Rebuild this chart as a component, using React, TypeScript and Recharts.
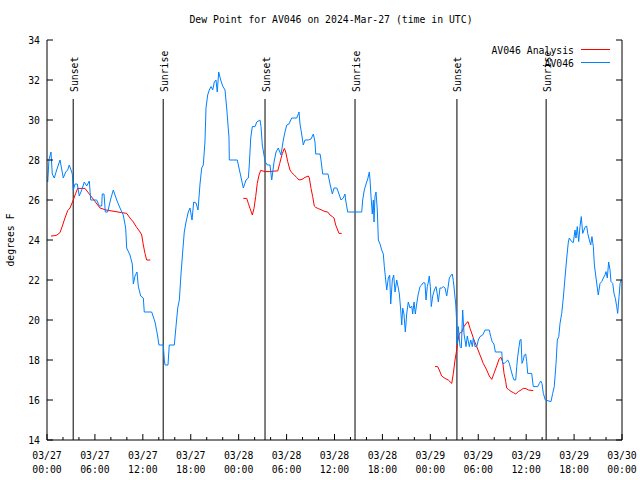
import { ComposedChart, Line, XAxis, YAxis, ReferenceLine, Scatter } from "recharts";

const FONT = "'DejaVu Sans Mono', 'Liberation Mono', monospace";
const FS = 9.8;

// hours since 2024-03-27 00:00 UTC
const obsHours = [
  0.09, 0.25, 0.5, 0.66, 0.91, 1.21, 1.63, 2.04, 2.34, 2.59, 2.79, 3.01, 3.17, 3.29, 3.51, 3.79, 4.04, 4.35, 4.67, 4.97,
  5.3, 5.47, 6.22, 6.55, 6.85, 6.92, 7.14, 7.3, 7.6, 8.01, 8.3, 8.73, 9.14, 9.55, 9.85, 9.98, 10.39, 10.68, 10.81, 11.02,
  11.27, 11.43, 11.73, 12.06, 12.18, 13.11, 13.52, 13.81, 14.02, 14.56, 14.69, 14.78, 15.15, 15.31, 15.94, 16.15, 16.37,
  16.57, 16.78, 16.99, 17.19, 17.41, 17.69, 17.91, 18.16, 18.37, 18.66, 18.91, 19.16, 19.37, 19.57, 19.78, 19.91, 20.12,
  20.32, 20.54, 20.75, 20.95, 21.16, 21.32, 21.5, 21.75, 22.0, 22.29, 22.5, 22.79, 22.83, 23.83, 24.04, 24.26, 24.58,
  24.92, 25.21, 25.33, 25.51, 25.71, 26.05, 26.26, 26.67, 26.8, 26.96, 27.17, 27.34, 27.59, 27.92, 28.14, 28.43, 28.68,
  28.96, 29.3, 29.59, 29.8, 30.02, 30.3, 30.64, 31.27, 31.56, 31.68, 31.89, 32.09, 32.31, 32.72, 33.06, 33.35, 33.56,
  33.65, 34.19, 34.31, 34.52, 35.19, 35.44, 35.73, 35.94, 36.28, 36.48, 36.81, 37.1, 37.31, 37.4, 37.65, 39.41, 39.53,
  39.73, 39.95, 40.16, 40.36, 40.45, 40.57, 40.73, 40.86, 40.95, 41.07, 41.2, 41.36, 41.49, 41.7, 41.91, 42.11, 42.24,
  42.41, 42.54, 42.74, 42.91, 43.04, 43.24, 43.41, 43.58, 43.79, 43.99, 44.12, 44.29, 44.42, 44.54, 44.7, 44.87, 45.04,
  45.24, 45.46, 45.67, 45.79, 45.96, 46.12, 46.29, 46.49, 46.71, 46.92, 47.12, 47.33, 47.46, 47.62, 47.75, 47.87, 48.0,
  48.12, 48.3, 48.5, 48.71, 48.87, 49.0, 49.21, 49.42, 49.62, 49.84, 50.05, 50.21, 50.38, 50.63, 50.75, 50.88, 51.0,
  51.18, 51.3, 51.38, 51.5, 51.72, 51.88, 52.05, 52.22, 52.47, 52.63, 52.88, 53.06, 53.26, 53.38, 53.59, 53.81, 54.01,
  54.22, 54.56, 54.85, 55.38, 55.56, 55.76, 55.97, 56.14, 56.94, 57.06, 57.26, 57.48, 57.69, 57.89, 58.1, 58.32, 58.48,
  58.69, 58.82, 58.94, 59.11, 59.23, 59.36, 59.48, 59.64, 59.77, 59.94, 60.07, 60.19, 60.69, 60.89, 61.45, 61.65, 61.82,
  61.98, 62.15, 62.4, 63.11, 63.32, 63.52, 63.74, 63.9, 64.08, 64.24, 64.45, 64.65, 64.86, 65.08, 65.28, 65.4, 65.7,
  65.9, 66.12, 66.24, 66.4, 66.58, 66.74, 66.9, 67.08, 67.24, 67.41, 67.58, 67.71, 67.91, 68.08, 68.24, 68.41, 68.54,
  68.75, 69.03, 69.25, 69.46, 69.66, 69.87, 70.0, 70.16, 70.33, 70.5, 70.62, 70.84, 71.0, 71.17, 71.34, 71.46, 71.63,
  71.76, 71.88,
];
const obsDewF = [
  26.9, 28.03, 28.4, 27.3, 27.1, 27.5, 28.0, 27.1, 27.4, 27.5, 27.75, 27.5, 27.3, 26.5, 26.8, 26.8, 26.2, 26.5, 26.9, 26.7,
  26.95, 26.0, 26.0, 25.7, 25.7, 26.3, 26.3, 25.4, 25.4, 26.1, 26.5, 26.0, 25.6, 25.25, 24.6, 23.6, 23.25, 22.8, 21.8, 22.2,
  22.4, 21.7, 21.2, 21.1, 20.4, 20.4, 19.9, 19.3, 18.75, 18.75, 18.0, 17.75, 17.75, 18.75, 18.75, 19.67, 20.6,
  21.0, 22.3, 23.4, 24.4, 24.9, 25.4, 25.6, 25.0, 25.9, 25.85, 25.5, 26.8, 27.6, 27.75, 28.9, 30.6, 31.25,
  31.5, 31.67, 31.5, 31.9, 32.0, 31.4, 32.4, 32.0, 31.7, 31.5, 30.6, 29.1, 28.0, 28.0, 27.6, 27.2, 26.6,
  27.0, 27.1, 27.75, 29.1, 29.67, 29.67, 29.9, 30.0, 29.67, 28.75, 28.25, 27.9, 27.75, 27.75, 27.0, 27.9, 28.4,
  28.6, 28.25, 29.0, 29.4, 29.75, 29.8, 30.1, 30.1, 30.4, 29.8, 29.3, 28.75, 29.0, 29.0, 29.05, 29.3, 28.9,
  28.3, 28.3, 28.0, 27.3, 27.3, 26.8, 26.3, 26.6, 26.6, 26.4, 26.0, 26.1, 26.3, 26.0, 25.4, 25.4, 26.0,
  26.5, 26.8, 27.05, 27.4, 27.0, 26.2, 25.3, 26.0, 24.9, 26.2, 26.4, 25.5, 24.0, 23.8, 23.5, 23.3, 22.67,
  22.0, 21.5, 22.1, 22.25, 20.8, 22.0, 22.25, 21.4, 22.0, 21.6, 21.3, 20.5, 19.75, 20.6, 20.3, 19.4, 20.3,
  20.9, 20.6, 20.7, 20.3, 20.9, 20.3, 20.8, 21.3, 21.67, 21.75, 21.87, 21.85, 21.0, 21.67, 21.9, 22.2, 21.67,
  20.67, 21.2, 21.5, 21.67, 21.3, 20.9, 21.6, 21.6, 21.67, 21.6, 21.2, 21.6, 22.1, 22.25, 22.3, 21.97, 21.5,
  20.8, 19.9, 18.8, 19.67, 18.67, 18.6, 20.5, 19.3, 18.67, 19.2, 18.67, 19.0, 18.67, 19.1, 18.67, 18.67, 19.0,
  19.17, 19.25, 19.5, 19.5, 19.17, 18.9, 18.8, 18.4, 18.4, 17.83, 17.83, 17.92, 18.0, 17.83, 17.5, 17.17, 17.0,
  17.0, 17.67, 18.17, 18.67, 19.0, 19.03, 17.83, 18.0, 18.25, 18.3, 17.92, 17.33, 17.33, 16.67, 16.67, 16.83, 16.95,
  16.83, 16.33, 16.0, 15.92, 16.33, 16.67, 17.83, 19.0, 19.17, 19.83, 20.33, 21.1, 22.1, 23.1, 23.9, 24.1, 23.92,
  23.87, 24.5, 24.1, 24.67, 23.92, 24.67, 25.17, 24.33, 24.5, 24.67, 24.7, 24.33, 24.0, 23.75, 24.17, 23.67, 22.75,
  22.1, 21.25, 21.83, 21.92, 22.1, 22.25, 22.42, 22.1, 22.9, 22.5, 21.92, 21.83, 21.33, 21.08, 20.67, 20.33, 21.17,
  21.83, 22.0,
];

// analysis: null marks a gap between runs
const anaHours = [
  0.5, 1.0, 1.25, 1.63, 1.92, 2.25, 2.59, 2.88, 3.29, 3.59, 3.84, 4.13, 4.76, 6.64, 7.39, 9.35, 9.98, 10.39, 10.81,
  11.23, 11.65, 11.86, 12.06, 12.27, 12.48, 12.94,
  18.0,
  24.58, 25.01, 25.21, 25.42, 25.71, 25.92, 26.13, 26.33, 26.55, 26.76, 27.3, 27.92, 28.55, 28.89, 29.14, 29.47, 29.72,
  29.89, 30.14, 30.43, 30.64, 30.97, 31.27, 31.56, 31.93, 32.31, 32.72, 32.85, 33.06, 33.27, 33.47, 33.65, 33.97, 34.4,
  34.81, 35.15, 35.44, 35.73, 35.94, 36.15, 36.4, 36.56, 36.9,
  42.0,
  48.59, 48.92, 49.12, 49.42, 49.84, 50.25, 50.68, 50.88, 51.09, 51.3, 51.43, 51.63, 51.93, 52.22, 52.47, 52.72, 52.97,
  53.26, 53.47, 53.81, 54.22, 54.63, 55.06, 55.38, 55.69, 55.97, 56.31, 56.64, 56.85, 57.06, 57.23, 57.44, 57.56, 57.77,
  58.1, 58.39, 58.69, 59.02, 59.36, 59.64, 59.97, 60.26, 60.89,
];
const anaDewF = [
  24.2, 24.22, 24.25, 24.37, 24.7, 25.1, 25.47, 25.6, 26.0, 26.33, 26.58, 26.58, 26.58, 25.6, 25.5, 25.37, 25.33, 25.1,
  24.9, 24.63, 24.4, 24.25, 23.75, 23.33, 23.0, 23.0,
  null,
  26.08, 26.08, 25.83, 25.58, 25.25, 25.58, 26.17, 26.83, 27.25, 27.48, 27.42, 27.42, 27.45, 27.45, 27.83, 28.33, 28.58,
  28.4, 27.92, 27.5, 27.37, 27.25, 27.12, 27.0, 27.03, 27.13, 27.2, 27.1, 26.58, 26.17, 25.7, 25.63, 25.57, 25.5,
  25.42, 25.4, 25.25, 25.17, 25.1, 24.75, 24.5, 24.33, 24.33,
  null,
  17.67, 17.67, 17.5, 17.2, 17.08, 17.0, 16.83, 17.33, 18.0, 18.5, 18.92, 19.33, 19.4, 19.67, 19.83, 19.92, 19.58,
  19.25, 19.0, 18.67, 18.25, 17.83, 17.5, 17.2, 17.03, 17.33, 17.7, 18.08, 18.13, 17.9, 17.33, 16.92, 16.6, 16.53,
  16.43, 16.37, 16.3, 16.42, 16.5, 16.58, 16.57, 16.5, 16.47,
];

const sunHours = [3.28, 14.55, 27.3, 38.57, 51.33, 62.5];
const sunNames = ["Sunset", "Sunrise", "Sunset", "Sunrise", "Sunset", "Sunrise"];
const SUN_TOP = 31.05;

const yTicks = [14, 16, 18, 20, 22, 24, 26, 28, 30, 32, 34];
const xTicks = Array.from({ length: 37 }, (_, i) => i * 2);

const obsData = obsHours.map((h, i) => ({ h, v: obsDewF[i] }));
const anaData = anaHours.map((h, i) => ({ h, v: anaDewF[i] }));
const sunData = sunHours.map((h, i) => ({ h, v: SUN_TOP, name: sunNames[i] }));

const pad = (n: number) => (n < 10 ? "0" + n : "" + n);

function BottomTick({ x, y, payload }: any) {
  const v = payload.value as number;
  const major = v % 6 === 0;
  return (
    <g>
      <line x1={x} x2={x} y1={y} y2={y - (major ? 6 : 3)} stroke="#000" />
      {major && (
        <text x={x} y={y + 19} textAnchor="middle" fontSize={FS} fontFamily={FONT} fill="#000">
          <tspan x={x}>{`03/${27 + Math.floor(v / 24)}`}</tspan>
          <tspan x={x} dy={14}>{`${pad(v % 24)}:00`}</tspan>
        </text>
      )}
    </g>
  );
}

function TopTick({ x, y, payload }: any) {
  const major = payload.value % 6 === 0;
  return <line x1={x} x2={x} y1={y} y2={y + (major ? 6 : 3)} stroke="#000" />;
}

function LeftTick({ x, y, payload }: any) {
  return (
    <g>
      <line x1={x} x2={x + 6} y1={y} y2={y} stroke="#000" />
      <text x={x - 7} y={y + 3.5} textAnchor="end" fontSize={FS} fontFamily={FONT} fill="#000">
        {payload.value}
      </text>
    </g>
  );
}

function RightTick({ x, y }: any) {
  return <line x1={x} x2={x - 6} y1={y} y2={y} stroke="#000" />;
}

function SunLabel({ cx, cy, payload }: any) {
  const tx = cx + 4.5;
  const ty = cy - 7;
  return (
    <text x={tx} y={ty} transform={`rotate(-90 ${tx} ${ty})`} fontSize={FS} fontFamily={FONT} fill="#000">
      {payload.name}
    </text>
  );
}

export default function App() {
  return (
    <div style={{ position: "absolute", left: 0, top: 0, width: 640, height: 480, background: "#fff" }}>
      <ComposedChart width={640} height={480} margin={{ top: 40, right: 0, bottom: 0, left: 0 }}>
        <XAxis
          xAxisId="b"
          dataKey="h"
          type="number"
          domain={[0, 72]}
          ticks={xTicks}
          interval={0}
          height={40}
          tickSize={0}
          tickMargin={0}
          axisLine={{ stroke: "#000" }}
          tick={<BottomTick />}
          allowDataOverflow
        />
        <XAxis
          xAxisId="t"
          orientation="top"
          dataKey="h"
          type="number"
          domain={[0, 72]}
          ticks={xTicks}
          interval={0}
          height={0}
          tickSize={0}
          tickMargin={0}
          axisLine={{ stroke: "#000" }}
          tick={<TopTick />}
          allowDataOverflow
        />
        <YAxis
          yAxisId="l"
          type="number"
          domain={[14, 34]}
          ticks={yTicks}
          interval={0}
          width={47}
          tickSize={0}
          tickMargin={0}
          axisLine={{ stroke: "#000" }}
          tick={<LeftTick />}
          allowDataOverflow
        />
        <YAxis
          yAxisId="r"
          orientation="right"
          type="number"
          domain={[14, 34]}
          ticks={yTicks}
          interval={0}
          width={18}
          tickSize={0}
          tickMargin={0}
          axisLine={{ stroke: "#000" }}
          tick={<RightTick />}
          allowDataOverflow
        />
        {sunHours.map((h, i) => (
          <ReferenceLine
            key={i}
            xAxisId="b"
            yAxisId="l"
            segment={[{ x: h, y: 14 }, { x: h, y: SUN_TOP }]}
            stroke="#000"
            strokeWidth={1}
          />
        ))}
        <Scatter xAxisId="b" yAxisId="l" data={sunData} dataKey="v" shape={<SunLabel />} isAnimationActive={false} />
        <Line
          xAxisId="b"
          yAxisId="l"
          data={anaData}
          dataKey="v"
          type="linear"
          stroke="#ff0000"
          strokeWidth={1}
          dot={false}
          isAnimationActive={false}
        />
        <Line
          xAxisId="b"
          yAxisId="l"
          data={obsData}
          dataKey="v"
          type="linear"
          stroke="#0080ff"
          strokeWidth={1}
          dot={false}
          isAnimationActive={false}
        />
      </ComposedChart>
      <svg width={640} height={480} style={{ position: "absolute", left: 0, top: 0, pointerEvents: "none" }}>
        <text x={331} y={23} textAnchor="middle" fontSize={FS} fontFamily={FONT} fill="#000">
          Dew Point for AV046 on 2024-Mar-27 (time in UTC)
        </text>
        <text x={14} y={240} textAnchor="middle" transform="rotate(-90 14 240)" fontSize={FS} fontFamily={FONT} fill="#000">
          degrees F
        </text>
        <text x={574} y={54} textAnchor="end" fontSize={FS} fontFamily={FONT} fill="#000">AV046 Analysis</text>
        <line x1={581} x2={610} y1={49.5} y2={49.5} stroke="#ff0000" />
        <text x={574} y={66.5} textAnchor="end" fontSize={FS} fontFamily={FONT} fill="#000">AV046</text>
        <line x1={581} x2={610} y1={62.5} y2={62.5} stroke="#0080ff" />
      </svg>
    </div>
  );
}
